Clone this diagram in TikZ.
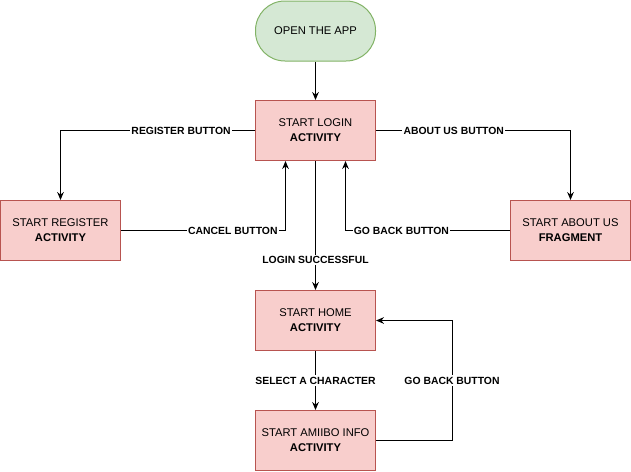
\documentclass[tikz,border=0pt]{standalone}
\usepackage{fontspec}
\setmainfont{Liberation Sans}
\usetikzlibrary{arrows.meta}
\definecolor{redfill}{HTML}{F8CECC}
\definecolor{redline}{HTML}{B85450}
\definecolor{greenfill}{HTML}{D5E8D4}
\definecolor{greenline}{HTML}{82B366}
\begin{document}
\begin{tikzpicture}[x=0.75pt, y=-0.75pt, >={Stealth[length=6pt,width=5pt]},
	every node/.style={font=\fontsize{8.4}{11.25}\selectfont},
	act/.style={draw=redline, fill=redfill, line width=0.75pt, minimum width=90pt, minimum height=45pt, align=center},
	startbox/.style={draw=greenline, fill=greenfill, line width=0.75pt, rounded corners=22pt, minimum width=90pt, minimum height=45pt},
	flow/.style={->, line width=0.75pt},
	lbl/.style={fill=white, inner sep=1pt, font=\fontsize{7.8}{10}\selectfont\bfseries}]
	\useasboundingbox (0,0) rectangle (631,471);
	
	% 各个界面
	\node[startbox] (app) at (315.5,31) {OPEN THE APP};
	\node[act] (login) at (315.5,130.5) {START LOGIN\\\textbf{ACTIVITY}};
	\node[act] (register) at (60.5,230.5) {START REGISTER\\\textbf{ACTIVITY}};
	\node[act] (about) at (570.5,230.5) {START ABOUT US\\\textbf{FRAGMENT}};
	\node[act] (home) at (315.5,320.5) {START HOME\\\textbf{ACTIVITY}};
	\node[act] (amiibo) at (315.5,440.5) {START AMIIBO INFO\\\textbf{ACTIVITY}};
	
	% 登录界面的跳转
	\draw[flow] (app) -- (login);
	\draw[flow] (login.west) -| node[lbl, pos=0.19] {REGISTER BUTTON} (register.north);
	\draw[flow] (login.east) -| node[lbl, pos=0.2] {ABOUT US BUTTON} (about.north);
	\draw[flow] (register.east) -| node[lbl, pos=0.34] {CANCEL BUTTON} ([xshift=-22.5pt]login.south);
	\draw[flow] (about.west) -| node[lbl, pos=0.33] {GO BACK BUTTON} ([xshift=22.5pt]login.south);
	\draw[flow] (login) -- node[lbl, pos=0.77] {LOGIN SUCCESSFUL} (home);
	
	% 主界面与详情界面
	\draw[flow] (home) -- node[lbl] {SELECT A CHARACTER} (amiibo);
	\draw[flow] (amiibo.east) -- ++(76,0) |- node[lbl, pos=0.25] {GO BACK BUTTON} (home.east);
\end{tikzpicture}
\end{document}
